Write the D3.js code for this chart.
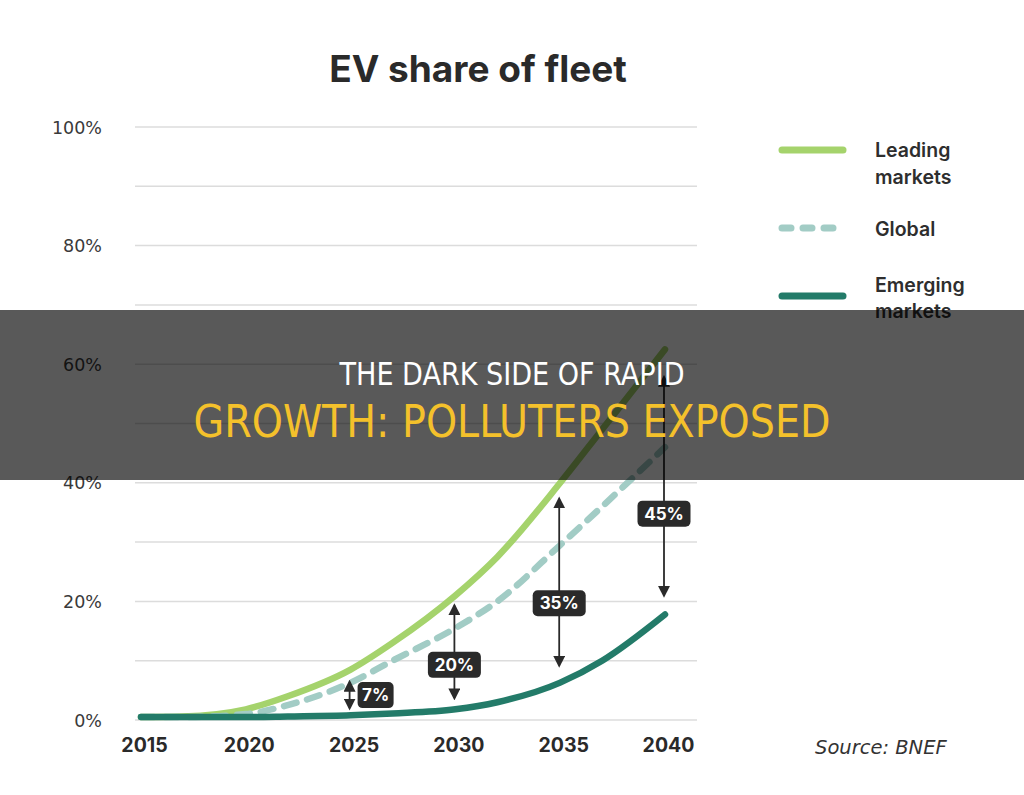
<!DOCTYPE html>
<html><head><meta charset="utf-8">
<script src="https://cdn.jsdelivr.net/npm/d3@7"></script>
<style>
html,body{margin:0;padding:0;background:#fff;}
svg{display:block;}
</style></head>
<body>
<svg id="chart" width="1024" height="795"></svg>
<script>
const years = [2015, 2017, 2020, 2022, 2025, 2027, 2030, 2032, 2035, 2037, 2040];
const leading  = [0.5, 0.6, 1.8, 4.0, 8.5, 13.0, 21.0, 27.5, 40.0, 49.0, 62.5];
const global   = [0.5, 0.5, 1.0, 2.5, 6.3, 10.0, 15.5, 20.0, 29.5, 36.0, 46.0];
const emerging = [0.5, 0.5, 0.5, 0.6, 0.8, 1.1, 1.8, 3.0, 6.3, 10.0, 17.8];
const xTicks = [2015, 2020, 2025, 2030, 2035, 2040];
const yTicks = [0, 20, 40, 60, 80, 100];
const gridVals = [0, 10, 20, 30, 40, 50, 60, 70, 80, 90, 100];
const seriesNames = ["Leading markets", "Global", "Emerging markets"];
const seriesColors = ["#a5d36c", "#a2ccc5", "#237b69"];
// annotations: year, from %, to %, label, label centre %, label side
const annYears = [2025, 2030, 2035, 2040];
const annFrom = [2.0, 3.7, 9.2, 21.0];
const annTo = [6.4, 19.3, 37.3, 57.8];
const annLabels = ["7%", "20%", "35%", "45%"];
const annLabelAt = [4.2, 9.3, 19.7, 34.8];
const annOffset = [1, 0, 0, 0];

const svg = d3.select("#chart");
const x = d3.scaleLinear().domain([2015, 2040]).range([141, 665]);
const y = d3.scaleLinear().domain([0, 100]).range([720, 127]);

// title
svg.append("text").attr("x", 478).attr("y", 82).attr("text-anchor", "middle")
  .attr("font-family", "Inter, 'DejaVu Sans', sans-serif").attr("font-weight", 700)
  .attr("font-size", 37).attr("fill", "#2a2a2a").text("EV share of fleet");

// grid
svg.append("g").selectAll("line").data(gridVals).join("line")
  .attr("x1", 135).attr("x2", 697)
  .attr("y1", d => y(d)).attr("y2", d => y(d))
  .attr("stroke", "#dcdcdc").attr("stroke-width", 1.5);

// y axis labels
const yAxis = d3.axisLeft(y).tickValues(yTicks).tickFormat(d => d + "%").tickSize(0).tickPadding(0);
const gy = svg.append("g").attr("transform", "translate(102,0)").call(yAxis);
gy.select(".domain").remove();
gy.selectAll("text").attr("font-family", "'DejaVu Sans', sans-serif").attr("font-size", 17.5)
  .attr("fill", "#3a3a3a").attr("dy", "0.35em");

// x axis labels
const xAxis = d3.axisBottom(x).tickValues(xTicks).tickFormat(d3.format("d")).tickSize(0).tickPadding(0);
const gx = svg.append("g").attr("transform", "translate(3,738)").call(xAxis);
gx.select(".domain").remove();
gx.selectAll("text").attr("font-family", "Inter, 'DejaVu Sans', sans-serif").attr("font-weight", 700)
  .attr("font-size", 19.5).attr("fill", "#2a2a2a");

// lines
const line = d3.line().x((d, i) => x(years[i])).y(d => y(d)).curve(d3.curveMonotoneX);
const allSeries = [leading, global, emerging];
allSeries.forEach((s, i) => {
  svg.append("path").datum(s).attr("d", line).attr("fill", "none")
    .attr("stroke", seriesColors[i]).attr("stroke-width", 6.5)
    .attr("stroke-linecap", "round")
    .attr("stroke-dasharray", i === 1 ? "13,11" : null);
});

// legend
const legY = [150, 228, 296];
const legLines = [["Leading", "markets"], ["Global"], ["Emerging", "markets"]];
const legTextY = [[157, 184], [236], [292, 318]];
legY.forEach((ly, i) => {
  svg.append("line").attr("x1", 782).attr("x2", 843).attr("y1", ly).attr("y2", ly)
    .attr("stroke", seriesColors[i]).attr("stroke-width", 7).attr("stroke-linecap", "round")
    .attr("stroke-dasharray", i === 1 ? "9,12" : null);
  legLines[i].forEach((t, j) => {
    svg.append("text").attr("x", 875).attr("y", legTextY[i][j])
      .attr("font-family", "Inter, 'DejaVu Sans', sans-serif").attr("font-weight", 600)
      .attr("font-size", 19.5).attr("fill", "#2e2e2e").text(t);
  });
});

// markers
const defs = svg.append("defs");
defs.append("marker").attr("id", "arr").attr("viewBox", "0 0 10 10").attr("refX", 8).attr("refY", 5)
  .attr("markerWidth", 12).attr("markerHeight", 12).attr("markerUnits", "userSpaceOnUse")
  .attr("orient", "auto-start-reverse")
  .append("path").attr("d", "M0,0 L10,5 L0,10 Z").attr("fill", "#2a2a2a");

annYears.forEach((yr, i) => {
  const ax = x(yr) - 1;
  svg.append("line").attr("x1", ax).attr("x2", ax).attr("y1", y(annFrom[i])).attr("y2", y(annTo[i]))
    .attr("stroke", "#2a2a2a").attr("stroke-width", 1.8)
    .attr("marker-start", "url(#arr)").attr("marker-end", "url(#arr)");
  const w = annLabels[i].length === 2 ? 36 : 53;
  const bx = annOffset[i] ? ax + 8 : ax - w / 2;
  const cy = y(annLabelAt[i]);
  svg.append("rect").attr("x", bx).attr("y", cy - 13).attr("width", w).attr("height", 26)
    .attr("rx", 5).attr("fill", "#2a2a2a");
  svg.append("text").attr("x", bx + w / 2).attr("y", cy).attr("dy", "0.36em")
    .attr("text-anchor", "middle").attr("font-family", "Inter, 'DejaVu Sans', sans-serif")
    .attr("font-weight", 700).attr("font-size", 17).attr("fill", "#fff").text(annLabels[i]);
});

// source
svg.append("text").attr("x", 815).attr("y", 754)
  .attr("font-family", "'DejaVu Sans', sans-serif").attr("font-style", "italic")
  .attr("font-size", 19.5).attr("fill", "#333").text("Source: BNEF");

// overlay banner
svg.append("rect").attr("x", 0).attr("y", 310).attr("width", 1024).attr("height", 170)
  .attr("fill", "rgba(0,0,0,0.65)");
svg.append("text").attr("x", 512).attr("y", 385).attr("text-anchor", "middle")
  .attr("font-family", "'Liberation Sans Narrow', 'DejaVu Sans Condensed', 'Liberation Sans', sans-serif")
  .attr("font-size", 32).attr("fill", "#ffffff")
  .attr("textLength", 345).attr("lengthAdjust", "spacingAndGlyphs")
  .text("THE DARK SIDE OF RAPID");
svg.append("text").attr("x", 512).attr("y", 437).attr("text-anchor", "middle")
  .attr("font-family", "'Liberation Sans Narrow', 'DejaVu Sans Condensed', 'Liberation Sans', sans-serif")
  .attr("font-size", 44).attr("fill", "#f4c12b")
  .attr("textLength", 637).attr("lengthAdjust", "spacingAndGlyphs")
  .text("GROWTH: POLLUTERS EXPOSED");
</script>
</body></html>
